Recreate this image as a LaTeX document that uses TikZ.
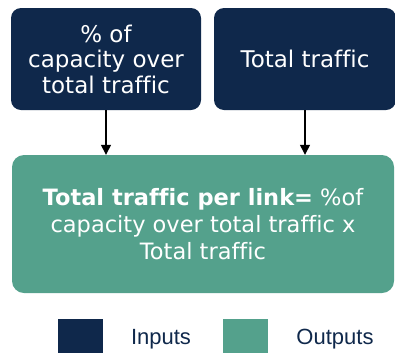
\documentclass[tikz,border=0pt]{standalone}
\usepackage{fontspec}
\setmainfont{DejaVu Sans}[Ligatures=NoCommon]
\newfontfamily\legendfont{Liberation Sans}
\usetikzlibrary{arrows.meta, positioning}

\definecolor{navy}{HTML}{0F284B}
\definecolor{teal}{HTML}{54A18C}

\tikzset{
    inputbox/.style={rectangle, rounded corners=10pt, fill=navy, text=white, align=center,
        font=\fontsize{23}{25.5}\selectfont, inner sep=0pt},
    outputbox/.style={rectangle, rounded corners=12pt, fill=teal, text=white, align=center,
        font=\fontsize{22.5}{27}\selectfont, inner sep=0pt},
    keybox/.style={rectangle, minimum width=45pt, minimum height=34pt, inner sep=0pt},
    keytext/.style={text=navy, font=\legendfont\fontsize{22}{24}\selectfont, inner sep=0pt},
    flow/.style={-{Triangle[length=10pt, width=10pt]}, line width=1.3pt}
}

\begin{document}
\begin{tikzpicture}[x=1pt, y=-1pt]
    \useasboundingbox (0,0) rectangle (395,354);

    \node (share) [inputbox, minimum width=190pt, minimum height=102pt] at (106,59) {\% of\\capacity over\\total traffic};
    \node (total) [inputbox, minimum width=182pt, minimum height=102pt] at (305,59) {Total traffic};
    \node (perlink) [outputbox, minimum width=382pt, minimum height=138pt] at (203,224)
        {\textbf{Total traffic per link=} \%of\\capacity over total traffic x\\Total traffic};

    \draw [flow] (share) -- (share |- perlink.north);
    \draw [flow] (total) -- (total |- perlink.north);

    % legend
    \node (inkey) [keybox, fill=navy] at (80,336) {};
    \node (inlabel) [keytext] at (161,339) {Inputs};
    \node (outkey) [keybox, fill=teal] at (245,336) {};
    \node (outlabel) [keytext] at (335,339) {Outputs};
\end{tikzpicture}
\end{document}
